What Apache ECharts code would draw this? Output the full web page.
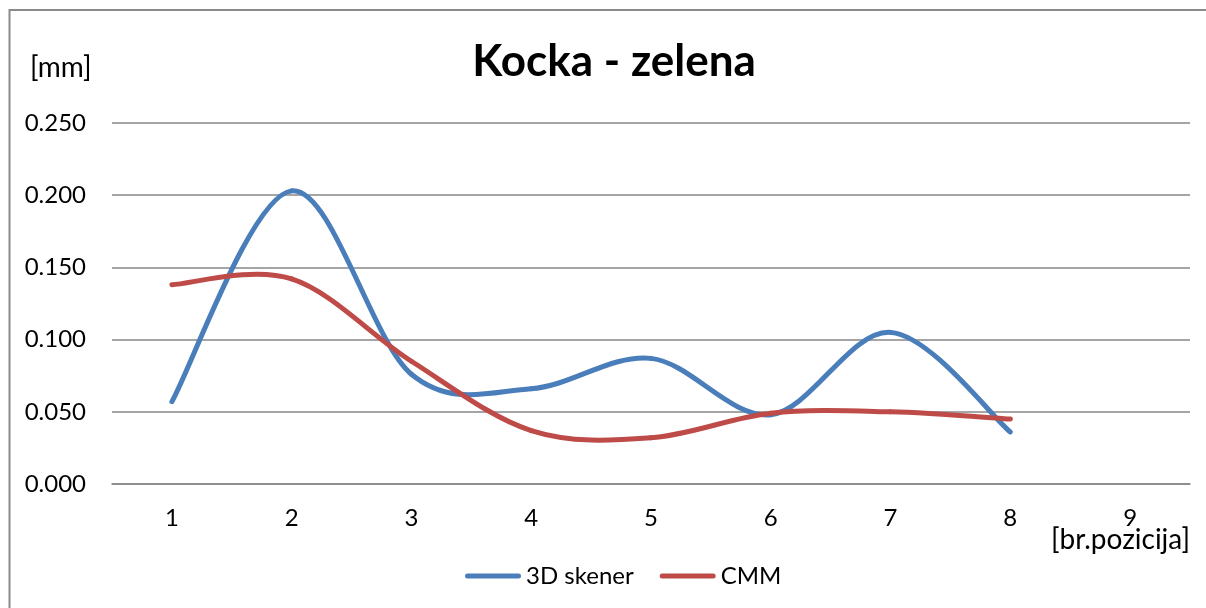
<!DOCTYPE html>
<html>
<head>
<meta charset="utf-8">
<script src="https://cdn.jsdelivr.net/npm/echarts@6/dist/echarts.min.js"></script>
<style>
  html, body { margin: 0; padding: 0; background: #fff; }
  #chart { width: 1206px; height: 608px; }
</style>
</head>
<body>
<div id="chart"></div>
<script>
// Deviation per measuring position, in millimetres
const positions = ['1', '2', '3', '4', '5', '6', '7', '8', '9'];
const skener3D = [0.057, 0.203, 0.076, 0.066, 0.087, 0.048, 0.105, 0.036];
const cmm = [0.138, 0.142, 0.085, 0.037, 0.032, 0.049, 0.050, 0.045];
const yTicks = { min: 0, max: 0.25, interval: 0.05 };

const FONT = 'Lato';
const GRID_COLOR = '#878787';
const BLUE = '#4A7EBB';
const RED = '#BE4B48';

// Smoothed line drawn as Catmull-Rom cubic segments between neighbouring points,
// each point placed through the chart's own axes with api.coord.
function smoothLineSeries(name, values, color) {
  return {
    name: name,
    type: 'custom',
    data: values.map((v, i) => [i, v]),
    itemStyle: { color: color },
    encode: { x: 0, y: 1 },
    renderItem: function (params, api) {
      const i = params.dataIndex;
      if (i >= values.length - 1) return null;
      const pt = k => {
        const j = Math.max(0, Math.min(values.length - 1, k));
        return api.coord([j, values[j]]);
      };
      const p0 = pt(i - 1), p1 = pt(i), p2 = pt(i + 1), p3 = pt(i + 2);
      return {
        type: 'bezierCurve',
        shape: {
          x1: p1[0], y1: p1[1],
          x2: p2[0], y2: p2[1],
          cpx1: p1[0] + (p2[0] - p0[0]) / 6,
          cpy1: p1[1] + (p2[1] - p0[1]) / 6,
          cpx2: p2[0] - (p3[0] - p1[0]) / 6,
          cpy2: p2[1] - (p3[1] - p1[1]) / 6
        },
        style: { fill: 'none', stroke: color, lineWidth: 5, lineCap: 'round' }
      };
    }
  };
}

const LEGEND_LINE = 'path://M2.5,0 L53.5,0 A2.5,2.5 0 0 1 53.5,5 L2.5,5 A2.5,2.5 0 0 1 2.5,0 Z';

const chart = echarts.init(document.getElementById('chart'));

chart.setOption({
  backgroundColor: '#ffffff',
  animation: false,
  title: {
    text: 'Kocka - zelena',
    left: 609,
    textAlign: 'center',
    top: 35,
    textStyle: { fontFamily: FONT, fontSize: 44, fontWeight: 'bold', color: '#000' }
  },
  legend: {
    bottom: 15,
    left: 460,
    itemWidth: 56,
    itemHeight: 5,
    itemGap: 26,
    textStyle: { fontFamily: FONT, fontSize: 24, color: '#000' },
    data: [
      { name: '3D skener', icon: LEGEND_LINE },
      { name: 'CMM', icon: LEGEND_LINE }
    ]
  },
  grid: { left: 112, right: 16, top: 123, bottom: 124, containLabel: false },
  xAxis: {
    type: 'category',
    data: positions,
    boundaryGap: true,
    axisLine: { show: true, lineStyle: { color: GRID_COLOR, width: 1.5 } },
    axisTick: { show: false },
    axisLabel: { fontFamily: FONT, fontSize: 24, color: '#000', margin: 22 }
  },
  yAxis: {
    type: 'value',
    min: yTicks.min,
    max: yTicks.max,
    interval: yTicks.interval,
    axisLine: { show: false },
    axisTick: { show: false },
    splitLine: { lineStyle: { color: GRID_COLOR, width: 1.5 } },
    axisLabel: {
      fontFamily: FONT, fontSize: 24, color: '#000', margin: 26,
      formatter: v => v.toFixed(3)
    }
  },
  graphic: [
    {
      type: 'rect',
      shape: { x: 9.5, y: 10, width: 1220, height: 640 },
      style: { fill: 'none', stroke: '#8a8a8a', lineWidth: 2 },
      silent: true
    },
    {
      type: 'text',
      left: 30, top: 54,
      style: { text: '[mm]', fontSize: 28, fontFamily: FONT, fill: '#000' }
    },
    {
      type: 'text',
      right: 16, top: 526,
      style: { text: '[br.pozicija]', fontSize: 28, fontFamily: FONT, fill: '#000' }
    }
  ],
  series: [
    smoothLineSeries('3D skener', skener3D, BLUE),
    smoothLineSeries('CMM', cmm, RED)
  ]
});
</script>
</body>
</html>
